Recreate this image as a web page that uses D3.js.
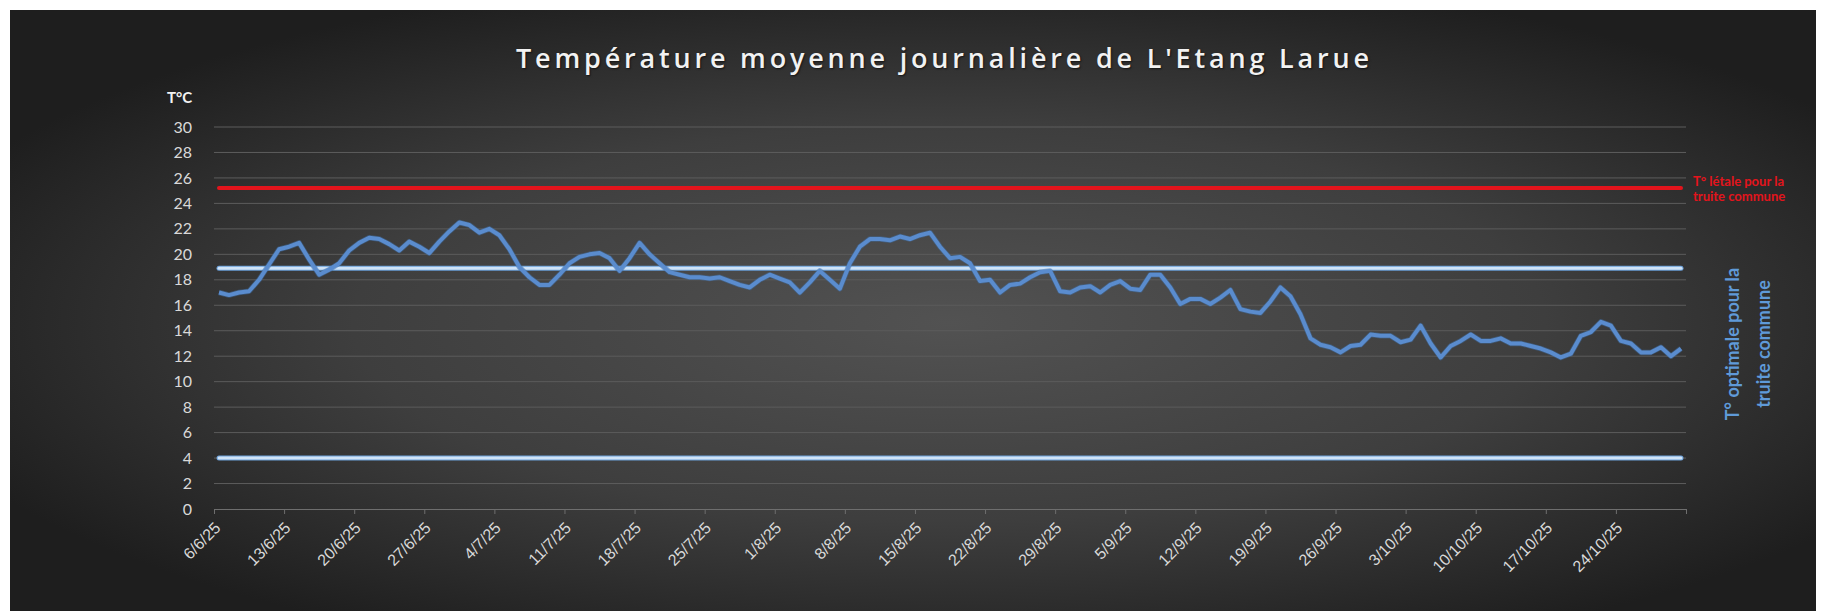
<!DOCTYPE html>
<html lang="fr">
<head>
  <meta charset="UTF-8">
  <title>Température moyenne journalière de L'Etang Larue</title>
  <script src="https://d3js.org/d3.v7.min.js"></script>
  <style>
    html, body { margin: 0; padding: 0; background: #ffffff; }
    svg { display: block; font-family: Lato, "Open Sans", sans-serif; }
    .grid line { stroke: #5c5c5c; stroke-width: 1; }
    .axis-x path, .axis-x line { stroke: #6e6e6e; }
    .axis-x text, .axis-y text { fill: #d9d9d9; }
  </style>
</head>
<body>
<svg width="1827" height="611"></svg>
<script>
  // daily mean temperature, one value per day from firstDay
  const firstDay = "06/06/25";
  const lastTick = "31/10/25";
  const temps = [
    17.0, 16.8, 17.0, 17.1, 18.0, 19.2, 20.4, 20.6, 20.9, 19.6,
    18.4, 18.8, 19.3, 20.3, 20.9, 21.3, 21.2, 20.8, 20.3, 21.0,
    20.6, 20.1, 21.0, 21.8, 22.5, 22.3, 21.7, 22.0, 21.5, 20.4,
    19.0, 18.2, 17.6, 17.6, 18.4, 19.3, 19.8, 20.0, 20.1, 19.7,
    18.7, 19.7, 20.9, 20.0, 19.3, 18.6, 18.4, 18.2, 18.2, 18.1,
    18.2, 17.9, 17.6, 17.4, 18.0, 18.4, 18.1, 17.8, 17.0, 17.8,
    18.7, 18.0, 17.3, 19.3, 20.6, 21.2, 21.2, 21.1, 21.4, 21.2,
    21.5, 21.7, 20.6, 19.7, 19.8, 19.3, 17.9, 18.0, 17.0, 17.6,
    17.7, 18.2, 18.6, 18.7, 17.1, 17.0, 17.4, 17.5, 17.0, 17.6,
    17.9, 17.3, 17.2, 18.4, 18.4, 17.4, 16.1, 16.5, 16.5, 16.1,
    16.6, 17.2, 15.7, 15.5, 15.4, 16.3, 17.4, 16.7, 15.3, 13.4,
    12.9, 12.7, 12.3, 12.8, 12.9, 13.7, 13.6, 13.6, 13.1, 13.3,
    14.4, 13.0, 11.9, 12.8, 13.2, 13.7, 13.2, 13.2, 13.4, 13.0,
    13.0, 12.8, 12.6, 12.3, 11.9, 12.2, 13.6, 13.9, 14.7, 14.4,
    13.2, 13.0, 12.3, 12.3, 12.7, 12.0, 12.6
  ];
  const tickLabels = [
    "6/6/25", "13/6/25", "20/6/25", "27/6/25", "4/7/25", "11/7/25", "18/7/25",
    "25/7/25", "1/8/25", "8/8/25", "15/8/25", "22/8/25", "29/8/25", "5/9/25",
    "12/9/25", "19/9/25", "26/9/25", "3/10/25", "10/10/25", "17/10/25", "24/10/25"
  ];
  const yTicks = [0, 2, 4, 6, 8, 10, 12, 14, 16, 18, 20, 22, 24, 26, 28, 30];
  const lethalTemp = 25.2;
  const optimalLow = 4;
  const optimalHigh = 18.9;

  const parse = d3.utcParse("%d/%m/%y");
  const start = parse(firstDay);
  const points = temps.map((t, i) => ({
    date: d3.utcHour.offset(d3.utcDay.offset(start, i), 12),
    temp: t
  }));
  const tickDates = tickLabels.map(parse);

  const svg = d3.select("svg");
  const W = 1827, H = 611;

  // background panel
  const defs = svg.append("defs");
  const bg = defs.append("radialGradient").attr("id", "bg")
    .attr("cx", "52%").attr("cy", "52%").attr("r", "60%");
  bg.append("stop").attr("offset", "0%").attr("stop-color", "#525252");
  bg.append("stop").attr("offset", "55%").attr("stop-color", "#3e3e3e");
  bg.append("stop").attr("offset", "100%").attr("stop-color", "#1e1e1e");
  svg.append("rect").attr("x", 10).attr("y", 10)
    .attr("width", 1816 - 10).attr("height", H - 10)
    .attr("fill", "url(#bg)");

  const x = d3.scaleUtc().domain([start, parse(lastTick)]).range([214, 1686]);
  const y = d3.scaleLinear().domain([0, 30]).range([509, 127]);

  // gridlines
  svg.append("g").attr("class", "grid")
    .selectAll("line").data(yTicks.filter(v => v > 0)).join("line")
    .attr("x1", x.range()[0]).attr("x2", x.range()[1])
    .attr("y1", d => y(d)).attr("y2", d => y(d));

  // y labels
  svg.append("g").attr("class", "axis-y")
    .selectAll("text").data(yTicks).join("text")
    .attr("x", 192).attr("y", d => y(d)).attr("dy", "0.35em")
    .attr("text-anchor", "end").style("font-size", "16px")
    .text(d => d);

  svg.append("text").attr("x", 167).attr("y", 103)
    .style("font-size", "15px").style("font-weight", "bold")
    .attr("fill", "#f2f2f2").text("T°C");

  // x axis
  const xAxis = d3.axisBottom(x)
    .tickValues(tickDates.concat([parse(lastTick)]))
    .tickSize(5).tickSizeOuter(0)
    .tickFormat((d, i) => tickLabels[i] || "");
  const gx = svg.append("g").attr("class", "axis-x")
    .attr("transform", `translate(0,${y(0)})`).call(xAxis);
  gx.selectAll("text")
    .style("font-size", "16px")
    .attr("text-anchor", "end")
    .attr("dy", null).attr("y", null)
    .attr("transform", "translate(7,20) rotate(-45)");

  // reference lines
  const ends = [points[0].date, points[points.length - 1].date];
  function refLine(v, color, halo, w) {
    if (halo) {
      svg.append("line")
        .attr("x1", x(ends[0])).attr("x2", x(ends[1]))
        .attr("y1", y(v)).attr("y2", y(v))
        .attr("stroke", halo).attr("stroke-width", w + 2)
        .attr("stroke-linecap", "round");
    }
    svg.append("line")
      .attr("x1", x(ends[0])).attr("x2", x(ends[1]))
      .attr("y1", y(v)).attr("y2", y(v))
      .attr("stroke", color).attr("stroke-width", w)
      .attr("stroke-linecap", "round");
  }
  refLine(lethalTemp, "#e3141c", null, 4);
  refLine(optimalHigh, "#cfe3f7", "#6a9fd8", 3);
  refLine(optimalLow, "#cfe3f7", "#6a9fd8", 3);

  // temperature line
  const line = d3.line().x(d => x(d.date)).y(d => y(d.temp));
  svg.append("path").datum(points)
    .attr("fill", "none").attr("stroke", "#3f6fa8")
    .attr("stroke-width", 5.5).attr("stroke-linejoin", "round")
    .attr("stroke-opacity", 0.5).attr("d", line);
  svg.append("path").datum(points)
    .attr("fill", "none").attr("stroke", "#5a8cce")
    .attr("stroke-width", 4).attr("stroke-linejoin", "round")
    .attr("d", line);

  // title
  svg.append("text").attr("x", 516).attr("y", 68)
    .attr("textLength", 853).attr("lengthAdjust", "spacing")
    .style("font-family", "'Open Sans', sans-serif")
    .style("font-size", "27px").style("font-weight", "600")
    .attr("fill", "#f2f2f2")
    .style("text-shadow", "1px 1px 2px rgba(0,0,0,0.6)")
    .text("Température moyenne journalière de L'Etang Larue");

  // annotations on the right
  const red = svg.append("text").attr("x", 1693).attr("y", 186)
    .attr("fill", "#e3141c").style("font-size", "13px").style("font-weight", "bold");
  red.append("tspan").attr("x", 1693).text("T° létale pour la");
  red.append("tspan").attr("x", 1693).attr("dy", 15).text("truite commune");

  const blue = svg.append("text")
    .attr("transform", "translate(1739,344) rotate(-90)")
    .attr("text-anchor", "middle")
    .attr("fill", "#5f9ad8").style("font-size", "18px").style("font-weight", "bold");
  blue.append("tspan").attr("x", 0).attr("y", 0).text("T° optimale pour la");
  blue.append("tspan").attr("x", 0).attr("dy", 31).text("truite commune");
</script>
</body>
</html>
